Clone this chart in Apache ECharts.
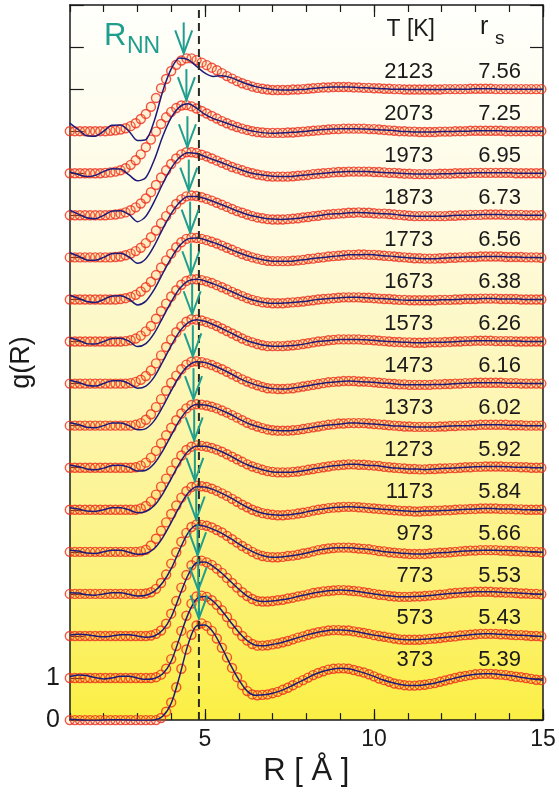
<!DOCTYPE html>
<html>
<head>
<meta charset="utf-8">
<script src="https://cdn.jsdelivr.net/npm/echarts@6/dist/echarts.min.js"></script>
<style>
html,body{margin:0;padding:0;background:#fff}
#main{width:559px;height:792px}
</style>
</head>
<body>
<div id="main"></div>
<script>
// temperatures (bottom -> top) and r_s
var temps = [373, 573, 773, 973, 1173, 1273, 1373, 1473, 1573, 1673, 1773, 1873, 1973, 2073, 2123];
var rsVals = ['5.39', '5.43', '5.53', '5.66', '5.84', '5.92', '6.02', '6.16', '6.26', '6.38', '6.56', '6.73', '6.95', '7.25', '7.56'];
// R_NN arrow positions and first peak heights
var rnnR = [4.82, 4.80, 4.78, 4.74, 4.70, 4.68, 4.66, 4.64, 4.62, 4.58, 4.56, 4.52, 4.48, 4.45, 4.37];
var peakG = [2.30, 1.97, 1.80, 1.65, 1.57, 1.53, 1.51, 1.53, 1.53, 1.48, 1.47, 1.47, 1.50, 1.62, 1.73];

// experiment (circles), R = 1.00, 1.15, ... 14.95
var expStart = 1.0, expStep = 0.15;
var exp373 = [0,0,0,0,0,0,0,0,0,0,0,0,0,0,0,0,0,0,
  0.05,0.20,0.42,0.78,1.22,1.68,2.03,2.25,2.30,2.24,2.12,1.94,1.72,1.49,1.24,1.02,0.83,0.69,
  0.61,0.59,0.60,0.61,0.64,0.67,0.72,0.77,0.83,0.89,0.95,1.01,1.07,1.12,1.16,1.20,1.22,1.23,
  1.23,1.22,1.19,1.16,1.13,1.09,1.04,0.99,0.95,0.91,0.87,0.85,0.83,0.82,0.82,0.83,0.84,0.86,
  0.88,0.91,0.94,0.97,1.00,1.03,1.05,1.07,1.09,1.10,1.10,1.10,1.09,1.08,1.07,1.05,1.03,1.02,
  1.00,0.98,0.96,0.95];
var exp573 = [0,0,0,0,0,0,0,0,0,0,0,0,0,0,0,0,0,
  0.02,0.08,0.22,0.45,0.76,1.12,1.48,1.77,1.94,1.96,1.93,1.85,1.74,1.61,1.45,1.29,1.13,1.00,
  0.89,0.81,0.77,0.77,0.78,0.80,0.82,0.85,0.88,0.92,0.96,0.99,1.03,1.06,1.09,1.11,1.13,1.14,
  1.14,1.13,1.13,1.11,1.09,1.07,1.05,1.02,1.00,0.98,0.96,0.94,0.92,0.91,0.91,0.91,0.91,0.92,
  0.93,0.94,0.95,0.97,0.98,0.99,1.01,1.02,1.03,1.04,1.05,1.05,1.05,1.05,1.04,1.04,1.03,1.02,
  1.02,1.01,1.00,1.00,0.99];
var exp773 = [0,0,0,0,0,0,0,0,0,0,0,0,0,0,0,0,
  0.01,0.05,0.13,0.29,0.53,0.83,1.15,1.45,1.68,1.79,1.79,1.75,1.69,1.60,1.50,1.38,1.26,1.15,
  1.04,0.95,0.88,0.83,0.82,0.82,0.83,0.85,0.86,0.89,0.91,0.94,0.96,0.99,1.02,1.04,1.06,1.07,
  1.08,1.09,1.09,1.08,1.07,1.06,1.04,1.02,1.00,0.98,0.97,0.95,0.94,0.93,0.93,0.93,0.94,0.94,
  0.95,0.96,0.97,0.98,0.99,1.01,1.02,1.03,1.04,1.04,1.05,1.05,1.05,1.05,1.04,1.04,1.03,1.03,
  1.02,1.01,1.01,1.00,1.00,0.99];
var exp973 = [0,0,0,0,0,0,0,0,0,0,0,0,0,0,0,
  0.01,0.04,0.12,0.26,0.46,0.72,0.99,1.24,1.45,1.59,1.65,
  1.64,1.62,1.58,1.52,1.46,1.38,1.30,1.22,1.14,1.07,1.00,0.94,0.90,0.88,0.87,
  0.87,0.88,0.90,0.91,0.93,0.96,0.98,1.01,1.04,1.06,1.08,1.09,1.10,1.10,
  1.10,1.09,1.08,1.07,1.06,1.04,1.02,1.01,0.99,0.98,0.97,0.96,0.95,0.95,
  0.95,0.95,0.96,0.97,0.98,0.98,0.99,1.00,1.01,1.02,1.03,1.03,1.04,1.04,1.04,1.04,1.03,1.03,
  1.02,1.02,1.01,1.01,1.00,1.00,0.99];
var exp1173 = [0,0,0,0,0,0,0,0,0,0,0,0,0,0,
  0.01,0.05,0.15,0.31,0.50,0.70,0.90,1.10,1.29,1.44,1.54,1.57,
  1.56,1.54,1.50,1.45,1.39,1.33,1.26,1.19,1.12,1.06,1.00,0.96,0.92,0.90,0.88,0.87,
  0.87,0.88,0.89,0.91,0.93,0.95,0.98,1.00,1.02,1.04,1.05,1.06,1.07,1.07,
  1.07,1.06,1.05,1.04,1.03,1.02,1.01,1.00,0.99,0.98,0.97,0.97,0.96,0.96,
  0.97,0.97,0.98,0.98,0.99,0.99,1.00,1.01,1.01,1.02,1.02,1.03,1.03,1.03,1.03,1.02,1.02,1.02,
  1.01,1.01,1.00,1.00,1.00,1.00];
var exp1273 = [0,0,0,0,0,0,0,0,0,0,0,0,0,0,
  0.03,0.09,0.20,0.36,0.55,0.74,0.93,1.12,1.29,1.42,1.50,1.53,
  1.52,1.50,1.47,1.43,1.38,1.32,1.26,1.20,1.14,1.08,1.03,0.99,0.95,0.92,0.90,0.89,
  0.89,0.89,0.90,0.91,0.93,0.95,0.97,0.99,1.01,1.03,1.05,1.06,1.07,1.08,
  1.08,1.07,1.07,1.06,1.05,1.04,1.02,1.01,1.00,0.99,0.98,0.97,0.97,0.96,
  0.96,0.97,0.97,0.98,0.98,0.99,0.99,1.00,1.01,1.01,1.02,1.02,1.03,1.03,1.03,1.03,1.02,1.02,
  1.02,1.01,1.01,1.00,1.00,1.00];
var exp1373 = [0,0,0,0,0,0,0,0,0,0,0,0,0,
  0.01,0.05,0.12,0.24,0.40,0.58,0.77,0.95,1.13,1.29,1.41,1.49,1.51,
  1.50,1.48,1.45,1.41,1.36,1.31,1.25,1.19,1.13,1.07,1.02,0.98,0.94,0.91,0.89,0.88,
  0.88,0.88,0.89,0.90,0.92,0.94,0.96,0.98,1.00,1.02,1.03,1.05,1.05,1.06,
  1.06,1.06,1.06,1.05,1.04,1.03,1.02,1.01,1.00,0.99,0.98,0.98,0.97,0.97,
  0.97,0.97,0.97,0.98,0.98,0.99,0.99,1.00,1.00,1.01,1.01,1.02,1.02,1.02,1.02,1.02,1.02,1.01,
  1.01,1.01,1.00,1.00,1.00,1.00];
var exp1473 = [0,0,0,0,0,0,0,0,0,0,0,0,0,
  0.02,0.06,0.14,0.27,0.44,0.63,0.83,1.02,1.19,1.34,1.45,1.52,1.53,
  1.51,1.48,1.44,1.39,1.34,1.28,1.22,1.16,1.10,1.05,1.00,0.96,0.92,0.89,0.88,0.87,
  0.87,0.88,0.89,0.91,0.93,0.95,0.97,0.99,1.01,1.03,1.04,1.05,1.06,1.06,
  1.06,1.05,1.05,1.04,1.03,1.02,1.01,1.00,0.99,0.98,0.98,0.97,0.97,0.97,
  0.97,0.97,0.98,0.98,0.99,0.99,1.00,1.00,1.01,1.01,1.02,1.02,1.02,1.02,1.02,1.02,1.01,1.01,
  1.01,1.00,1.00,1.00,1.00,1.00];
var exp1573 = [0,0,0,0,0,0,0,0,0,0,0,0,
  0.01,0.04,0.09,0.18,0.31,0.48,0.67,0.87,1.05,1.22,1.36,1.47,1.53,1.52,
  1.50,1.46,1.42,1.37,1.31,1.25,1.19,1.13,1.07,1.02,0.98,0.94,0.91,0.89,0.89,0.89,
  0.89,0.90,0.91,0.92,0.94,0.96,0.98,1.00,1.01,1.03,1.04,1.05,1.05,1.05,
  1.05,1.05,1.04,1.04,1.03,1.02,1.01,1.00,0.99,0.99,0.98,0.98,0.97,0.97,
  0.97,0.98,0.98,0.98,0.99,0.99,1.00,1.00,1.01,1.01,1.02,1.02,1.02,1.02,1.01,1.01,1.01,1.01,
  1.00,1.00,1.00,1.00,1.00,1.00];
var exp1673 = [0,0,0,0,0,0,0,0,0,0,0,
  0.01,0.03,0.07,0.14,0.24,0.37,0.54,0.72,0.90,1.07,1.22,1.35,1.44,1.48,1.48,
  1.46,1.43,1.39,1.34,1.29,1.24,1.18,1.13,1.08,1.03,0.99,0.96,0.93,0.92,0.91,0.91,
  0.91,0.92,0.93,0.94,0.95,0.97,0.98,1.00,1.01,1.02,1.03,1.04,1.05,1.05,
  1.05,1.05,1.04,1.04,1.03,1.02,1.01,1.01,1.00,0.99,0.99,0.98,0.98,0.98,
  0.98,0.98,0.98,0.99,0.99,0.99,1.00,1.00,1.01,1.01,1.01,1.02,1.02,1.02,1.02,1.01,1.01,1.01,
  1.01,1.00,1.00,1.00,1.00,1.00];
var exp1773 = [0,0,0,0,0,0,0,0,0,0,
  0.01,0.03,0.06,0.11,0.19,0.29,0.42,0.58,0.76,0.93,1.09,1.24,1.36,1.44,1.47,1.46,
  1.44,1.41,1.37,1.33,1.28,1.23,1.18,1.13,1.08,1.04,1.00,0.97,0.94,0.92,0.91,0.91,
  0.91,0.91,0.92,0.93,0.94,0.96,0.97,0.99,1.00,1.02,1.03,1.04,1.05,1.06,
  1.06,1.07,1.07,1.06,1.06,1.05,1.04,1.03,1.02,1.01,1.00,0.99,0.98,0.98,
  0.97,0.97,0.97,0.98,0.98,0.99,0.99,1.00,1.00,1.01,1.01,1.02,1.02,1.02,1.02,1.02,1.01,1.01,
  1.01,1.01,1.00,1.00,1.00,0.99];
var exp1873 = [0,0,0,0,0,0,0,0,0,
  0.01,0.02,0.05,0.09,0.15,0.23,0.34,0.48,0.64,0.81,0.98,1.13,1.27,1.38,1.45,1.47,1.46,
  1.43,1.39,1.35,1.30,1.25,1.20,1.15,1.10,1.06,1.02,0.98,0.95,0.93,0.91,0.90,0.90,
  0.90,0.91,0.92,0.93,0.95,0.96,0.98,0.99,1.01,1.02,1.03,1.04,1.05,1.06,
  1.06,1.07,1.06,1.06,1.05,1.04,1.04,1.03,1.02,1.01,1.00,0.99,0.98,0.98,
  0.98,0.98,0.98,0.98,0.98,0.99,0.99,1.00,1.00,1.01,1.01,1.01,1.02,1.02,1.02,1.02,1.01,1.01,
  1.01,1.01,1.00,1.00,1.00,1.00];
var exp1973 = [0,0,0,0,0,0,0,0,
  0.01,0.02,0.04,0.07,0.12,0.19,0.28,0.40,0.55,0.72,0.90,1.07,1.22,1.35,1.45,1.50,1.50,1.48,
  1.44,1.40,1.35,1.30,1.25,1.20,1.15,1.11,1.07,1.03,1.00,0.97,0.95,0.93,0.92,0.92,
  0.92,0.92,0.93,0.94,0.95,0.96,0.98,0.99,1.00,1.01,1.02,1.03,1.03,1.04,
  1.04,1.04,1.04,1.04,1.03,1.03,1.02,1.01,1.01,1.00,0.99,0.99,0.98,0.98,
  0.98,0.98,0.98,0.99,0.99,0.99,1.00,1.00,1.00,1.01,1.01,1.01,1.01,1.01,1.01,1.01,1.01,1.01,
  1.00,1.00,1.00,1.00,1.00,1.00];
var exp2073 = [0,0,0,0,0,0,0,
  0.01,0.02,0.04,0.07,0.12,0.20,0.31,0.45,0.62,0.80,0.99,1.17,1.33,1.46,1.55,1.61,1.62,1.59,1.54,
  1.48,1.42,1.36,1.30,1.24,1.19,1.14,1.10,1.06,1.03,1.00,0.98,0.97,0.96,0.96,0.96,
  0.96,0.97,0.97,0.98,0.99,1.00,1.01,1.02,1.03,1.04,1.05,1.05,1.06,1.06,
  1.06,1.06,1.06,1.05,1.05,1.04,1.03,1.02,1.01,1.00,1.00,0.99,0.99,0.98,
  0.98,0.98,0.98,0.99,0.99,0.99,1.00,1.00,1.00,1.01,1.01,1.01,1.01,1.01,1.01,1.01,1.00,1.00,
  1.00,1.00,1.00,1.00,1.00,1.00];
var exp2123 = [0,0,0,0,0,0,0,0,
  0.01,0.02,0.04,0.07,0.12,0.19,0.29,0.41,0.58,0.79,1.02,1.24,1.43,1.58,1.68,1.73,1.73,1.69,
  1.63,1.57,1.51,1.45,1.38,1.31,1.25,1.19,1.14,1.10,1.06,1.03,1.01,0.99,0.98,0.98,
  0.98,0.98,0.99,0.99,1.00,1.01,1.02,1.03,1.04,1.04,1.05,1.05,1.05,1.05,
  1.04,1.04,1.03,1.03,1.02,1.02,1.01,1.01,1.00,1.00,0.99,0.99,0.99,0.99,
  0.99,0.99,0.99,0.99,1.00,1.00,1.00,1.00,1.00,1.01,1.01,1.01,1.01,1.01,1.00,1.00,1.00,1.00,
  1.00,1.00,1.00,1.00,1.00,1.00];

// theory (solid line), R = 1.00, 1.25, ... 15.00
var fitStart = 1.0, fitStep = 0.25;
var fit373 = [0.02,0.01,-0.01,-0.01,0.00,0.01,0.01,0.00,-0.01,-0.01,
  0.00,0.09,0.40,1.05,1.80,2.24,2.26,2.08,1.72,1.32,
  0.96,0.69,0.59,0.60,0.64,0.70,0.79,0.89,0.99,1.09,
  1.16,1.21,1.23,1.22,1.17,1.11,1.04,0.96,0.90,0.85,
  0.82,0.82,0.84,0.87,0.92,0.97,1.02,1.06,1.09,1.10,
  1.10,1.08,1.06,1.03,1.00,0.97,0.95];
var fit573 = [0.03,0.07,0.06,0.01,-0.02,0.00,0.04,0.04,0.00,-0.03,
  -0.01,0.10,0.40,0.96,1.52,1.88,1.94,1.82,1.60,1.34,
  1.09,0.89,0.78,0.77,0.80,0.84,0.90,0.96,1.02,1.07,
  1.11,1.14,1.14,1.13,1.10,1.06,1.02,0.99,0.95,0.92,
  0.91,0.91,0.92,0.94,0.96,0.98,1.00,1.02,1.04,1.05,
  1.05,1.04,1.03,1.02,1.01,1.00,0.99];
var fit773 = [0.02,0.04,0.03,0.00,-0.02,0.00,0.03,0.03,0.00,-0.03,
  0.00,0.14,0.45,0.96,1.45,1.74,1.76,1.65,1.49,1.30,
  1.11,0.95,0.85,0.82,0.83,0.86,0.89,0.94,0.98,1.03,
  1.06,1.08,1.09,1.08,1.06,1.03,1.00,0.97,0.95,0.93,
  0.93,0.94,0.95,0.97,0.99,1.01,1.02,1.04,1.05,1.05,
  1.05,1.04,1.03,1.02,1.01,1.00,0.99];
var fit973 = [0.03,0.02,-0.02,-0.03,0.00,0.03,0.03,-0.01,-0.05,-0.03,
  0.06,0.27,0.60,1.05,1.45,1.63,1.61,1.53,1.44,1.32,
  1.19,1.07,0.97,0.90,0.87,0.88,0.90,0.93,0.97,1.02,
  1.06,1.09,1.10,1.10,1.08,1.07,1.04,1.01,0.99,0.97,
  0.96,0.95,0.95,0.97,0.98,0.99,1.01,1.02,1.03,1.04,
  1.04,1.03,1.03,1.02,1.01,1.00,0.99];
var fit1173 = [0.04,0.02,-0.03,-0.04,0.00,0.04,0.04,-0.01,-0.06,-0.04,
  0.08,0.34,0.70,1.08,1.40,1.55,1.54,1.48,1.39,1.29,
  1.17,1.06,0.97,0.91,0.88,0.87,0.88,0.91,0.95,0.99,
  1.02,1.05,1.06,1.07,1.06,1.05,1.03,1.01,1.00,0.98,
  0.97,0.96,0.97,0.97,0.98,0.99,1.00,1.01,1.02,1.03,
  1.03,1.02,1.02,1.01,1.00,1.00,1.00];
var fit1273 = [0.05,0.02,-0.03,-0.04,0.00,0.05,0.05,0.00,-0.07,-0.04,
  0.10,0.38,0.74,1.11,1.39,1.51,1.51,1.46,1.38,1.28,
  1.17,1.07,1.00,0.94,0.90,0.89,0.89,0.91,0.94,0.98,
  1.01,1.04,1.06,1.08,1.08,1.06,1.05,1.03,1.00,0.99,
  0.97,0.97,0.96,0.97,0.98,0.99,1.00,1.01,1.02,1.03,
  1.03,1.03,1.02,1.01,1.01,1.00,1.00];
var fit1373 = [0.06,0.03,-0.03,-0.05,-0.01,0.05,0.06,0.01,-0.08,-0.06,
  0.10,0.40,0.77,1.13,1.39,1.50,1.49,1.44,1.36,1.27,
  1.16,1.06,0.99,0.93,0.89,0.88,0.88,0.90,0.93,0.97,
  1.00,1.02,1.04,1.06,1.06,1.05,1.04,1.02,1.00,0.99,
  0.98,0.97,0.97,0.97,0.98,0.99,1.00,1.00,1.01,1.02,
  1.02,1.02,1.01,1.01,1.00,1.00,1.00];
var fit1473 = [0.07,0.03,-0.04,-0.05,0.00,0.06,0.06,0.00,-0.10,-0.07,
  0.12,0.45,0.83,1.18,1.42,1.52,1.50,1.43,1.34,1.24,
  1.13,1.04,0.97,0.92,0.88,0.87,0.88,0.91,0.94,0.98,
  1.01,1.03,1.05,1.06,1.05,1.04,1.03,1.01,1.00,0.98,
  0.97,0.97,0.97,0.98,0.98,0.99,1.00,1.01,1.02,1.02,
  1.02,1.02,1.01,1.01,1.00,1.00,1.00];
var fit1573 = [0.08,0.03,-0.04,-0.06,0.00,0.07,0.07,0.00,-0.11,-0.06,
  0.16,0.52,0.90,1.24,1.45,1.52,1.48,1.40,1.31,1.21,
  1.11,1.02,0.96,0.91,0.89,0.89,0.90,0.92,0.95,0.99,
  1.01,1.03,1.05,1.05,1.05,1.04,1.03,1.01,1.00,0.99,
  0.98,0.97,0.97,0.98,0.98,0.99,1.00,1.01,1.02,1.02,
  1.02,1.01,1.01,1.01,1.00,1.00,1.00];
var fit1673 = [0.09,0.03,-0.05,-0.06,0.00,0.07,0.08,0.01,-0.12,-0.05,
  0.20,0.57,0.94,1.26,1.44,1.48,1.44,1.37,1.29,1.20,
  1.11,1.03,0.97,0.93,0.91,0.91,0.92,0.94,0.96,0.99,
  1.01,1.03,1.04,1.05,1.05,1.04,1.03,1.02,1.01,0.99,
  0.98,0.98,0.98,0.98,0.99,0.99,1.00,1.01,1.01,1.02,
  1.02,1.01,1.01,1.01,1.00,1.00,1.00];
var fit1773 = [0.10,0.03,-0.05,-0.07,0.00,0.08,0.09,0.01,-0.13,-0.04,
  0.24,0.62,0.98,1.28,1.44,1.46,1.42,1.35,1.28,1.19,
  1.11,1.04,0.98,0.94,0.91,0.91,0.91,0.93,0.95,0.98,
  1.00,1.02,1.04,1.06,1.06,1.07,1.06,1.04,1.03,1.01,
  0.99,0.98,0.97,0.97,0.98,0.99,1.00,1.01,1.01,1.02,
  1.02,1.02,1.01,1.01,1.00,1.00,0.99];
var fit1873 = [0.11,0.03,-0.06,-0.07,0.00,0.09,0.10,0.01,-0.14,-0.03,
  0.28,0.68,1.04,1.31,1.45,1.45,1.40,1.33,1.25,1.17,
  1.09,1.02,0.97,0.93,0.91,0.90,0.91,0.93,0.96,0.98,
  1.01,1.03,1.04,1.06,1.07,1.06,1.05,1.04,1.03,1.01,
  0.99,0.98,0.98,0.98,0.98,0.99,1.00,1.00,1.01,1.02,
  1.02,1.02,1.01,1.01,1.00,1.00,1.00];
var fit1973 = [0.12,0.03,-0.06,-0.08,0.00,0.10,0.11,0.02,-0.15,-0.02,
  0.33,0.75,1.12,1.38,1.49,1.47,1.40,1.32,1.25,1.17,
  1.10,1.03,0.98,0.95,0.93,0.92,0.92,0.94,0.96,0.98,
  1.00,1.02,1.03,1.04,1.04,1.04,1.03,1.02,1.01,1.00,
  0.99,0.98,0.98,0.98,0.99,0.99,1.00,1.00,1.01,1.01,
  1.01,1.01,1.01,1.00,1.00,1.00,1.00];
var fit2073 = [0.03,-0.03,-0.08,-0.05,0.04,0.11,0.10,-0.04,-0.18,-0.10,
  0.32,0.88,1.32,1.58,1.65,1.55,1.40,1.30,1.23,1.16,
  1.09,1.03,0.99,0.96,0.95,0.96,0.97,0.98,1.00,1.02,
  1.04,1.05,1.06,1.06,1.06,1.05,1.04,1.03,1.02,1.00,
  0.99,0.98,0.98,0.98,0.99,0.99,1.00,1.00,1.01,1.01,
  1.01,1.01,1.00,1.00,1.00,1.00,1.00];
var fit2123 = [0.19,0.04,-0.11,-0.12,0.00,0.14,0.15,0.00,-0.22,-0.20,
  0.25,0.95,1.48,1.74,1.70,1.54,1.38,1.30,1.32,1.28,
  1.20,1.12,1.06,1.02,0.99,0.98,0.98,0.99,1.00,1.02,
  1.04,1.05,1.05,1.05,1.04,1.03,1.02,1.01,1.00,1.00,
  0.99,0.99,0.99,0.99,0.99,1.00,1.00,1.00,1.01,1.01,
  1.01,1.00,1.00,1.00,1.00,1.00,1.00];

var expSets = [exp373, exp573, exp773, exp973, exp1173, exp1273, exp1373, exp1473, exp1573, exp1673, exp1773, exp1873, exp1973, exp2073, exp2123];
var fitSets = [fit373, fit573, fit773, fit973, fit1173, fit1273, fit1373, fit1473, fit1573, fit1673, fit1773, fit1873, fit1973, fit2073, fit2123];

var FONT = "'Liberation Sans', Arial, sans-serif";
var TEAL = '#1f9e8e';
var INK = '#1a1a1a';

var chart = echarts.init(document.getElementById('main'));

var series = [];
for (var i = 0; i < temps.length; i++) {
    // each curve is shifted up by i
    var e = expSets[i].map(function (g, k) { return [expStart + expStep * k, g + this.off]; }, { off: i });
    var f = fitSets[i].map(function (g, k) { return [fitStart + fitStep * k, g + this.off]; }, { off: i });
    series.push({
        type: 'scatter', name: 'exp' + temps[i], data: e, z: 2,
        symbol: 'circle', symbolSize: 9,
        itemStyle: { color: 'rgba(255,170,60,0.18)', borderColor: '#ec2d1c', borderWidth: 1.4 },
        silent: true
    });
    series.push({
        type: 'line', name: 'fit' + temps[i], data: f, z: 3,
        showSymbol: false, symbol: 'none', smooth: 0.3,
        lineStyle: { color: '#1d1a78', width: 1.5 },
        silent: true
    });
}

// dashed vertical line
series.push({
    type: 'line', data: [[4.82, 0], [4.82, 17]], z: 4, symbol: 'none', silent: true,
    lineStyle: { color: '#2a2a2a', width: 2, type: [8, 5] }
});

// R_NN arrows
series.push({
    type: 'custom', z: 5, silent: true,
    data: rnnR.map(function (r, i) { return [r, peakG[i] + i]; }),
    renderItem: function (params, api) {
        var p = api.coord([api.value(0), api.value(1)]);
        var x = p[0], y = p[1] - 5;
        return {
            type: 'group', children: [
                { type: 'line', shape: { x1: x, y1: y - 31, x2: x, y2: y }, style: { stroke: TEAL, lineWidth: 2 } },
                { type: 'polyline', shape: { points: [[x - 8.5, y - 23], [x, y], [x + 8.5, y - 23]] }, style: { stroke: TEAL, lineWidth: 2, fill: null } }
            ]
        };
    }
});

// T and r_s columns
function textColumn(vals, xVal) {
    return {
        type: 'custom', z: 6, silent: true,
        data: vals.map(function (v, i) { return [xVal, i + 1.42]; }),
        renderItem: function (params, api) {
            var p = api.coord([api.value(0), api.value(1)]);
            return {
                type: 'text', x: p[0], y: p[1],
                style: {
                    text: String(vals[params.dataIndex]), fontSize: 22, fontFamily: FONT, fill: INK,
                    align: 'right', verticalAlign: 'middle', textAlign: 'right', textVerticalAlign: 'middle'
                }
            };
        }
    };
}
series.push(textColumn(temps, 11.75));
series.push(textColumn(rsVals, 14.35));

var xBase = { type: 'value', min: 1, max: 15, splitLine: { show: false } };
var lineSty = { color: INK, width: 1.5 };

function gText(txt, x, y, size, color, align) {
    return {
        type: 'text', x: x, y: y, z: 10,
        style: { text: txt, fontSize: size, fontFamily: FONT, fill: color, align: align, verticalAlign: 'middle', textAlign: align, textVerticalAlign: 'middle' }
    };
}

var option = {
    animation: false,
    backgroundColor: '#fff',
    grid: {
        left: 65, right: 16, top: 5, bottom: 70, show: true, borderWidth: 0,
        backgroundColor: {
            type: 'linear', x: 0, y: 0, x2: 0, y2: 1,
            colorStops: [
                { offset: 0, color: '#fffffc' },
                { offset: 0.3, color: '#fefbe2' },
                { offset: 0.55, color: '#fdf6b4' },
                { offset: 0.8, color: '#fcf27c' },
                { offset: 1, color: '#fbef44' }
            ]
        }
    },
    xAxis: [
        Object.assign({}, xBase, {
            position: 'bottom', interval: 1,
            axisLine: { show: true, lineStyle: lineSty },
            axisTick: { inside: true, length: 7, lineStyle: { color: INK, width: 1.2 } },
            axisLabel: { customValues: [5, 10, 15], fontSize: 23, fontFamily: FONT, color: INK, margin: 8 },
            name: 'R [ Å ]', nameLocation: 'middle', nameGap: 33,
            nameTextStyle: { fontSize: 31, fontFamily: FONT, color: INK }
        }),
        Object.assign({}, xBase, {
            position: 'bottom',
            axisLine: { show: false },
            axisTick: { inside: true, length: 11, customValues: [5, 10, 15], lineStyle: { color: INK, width: 1.2 } },
            axisLabel: { show: false }
        }),
        Object.assign({}, xBase, {
            position: 'top', interval: 1,
            axisLine: { show: true, lineStyle: lineSty },
            axisTick: { inside: true, length: 7, lineStyle: { color: INK, width: 1.2 } },
            axisLabel: { show: false }
        }),
        Object.assign({}, xBase, {
            position: 'top',
            axisLine: { show: false },
            axisTick: { inside: true, length: 12, customValues: [5, 10, 15], lineStyle: { color: INK, width: 1.2 } },
            axisLabel: { show: false }
        })
    ],
    yAxis: [
        {
            type: 'value', min: 0, max: 17, interval: 1, position: 'left',
            splitLine: { show: false },
            axisLine: { show: true, lineStyle: lineSty },
            axisTick: { inside: true, length: 14, lineStyle: { color: INK, width: 1.2 } },
            axisLabel: {
                fontSize: 25, fontFamily: FONT, color: INK, margin: 10,
                formatter: function (v) { return (v === 0 || v === 1) ? String(v) : ''; }
            },
            name: 'g(R)', nameLocation: 'middle', nameGap: 27, nameRotate: 90,
            nameTextStyle: { fontSize: 27, fontFamily: FONT, color: INK }
        },
        {
            type: 'value', min: 0, max: 17, interval: 1, position: 'right',
            splitLine: { show: false },
            axisLine: { show: true, lineStyle: lineSty },
            axisTick: { inside: true, length: 13, lineStyle: { color: INK, width: 1.2 } },
            axisLabel: { show: false }
        }
    ],
    graphic: [
        gText('T [K]', 435, 30, 23, INK, 'right'),
        gText('r', 480, 27, 25, INK, 'left'),
        gText('s', 495, 39, 19, INK, 'left'),
        gText('R', 104, 36, 31, TEAL, 'left'),
        gText('NN', 127, 47, 23, TEAL, 'left')
    ],
    series: series
};

chart.setOption(option);
</script>
</body>
</html>
